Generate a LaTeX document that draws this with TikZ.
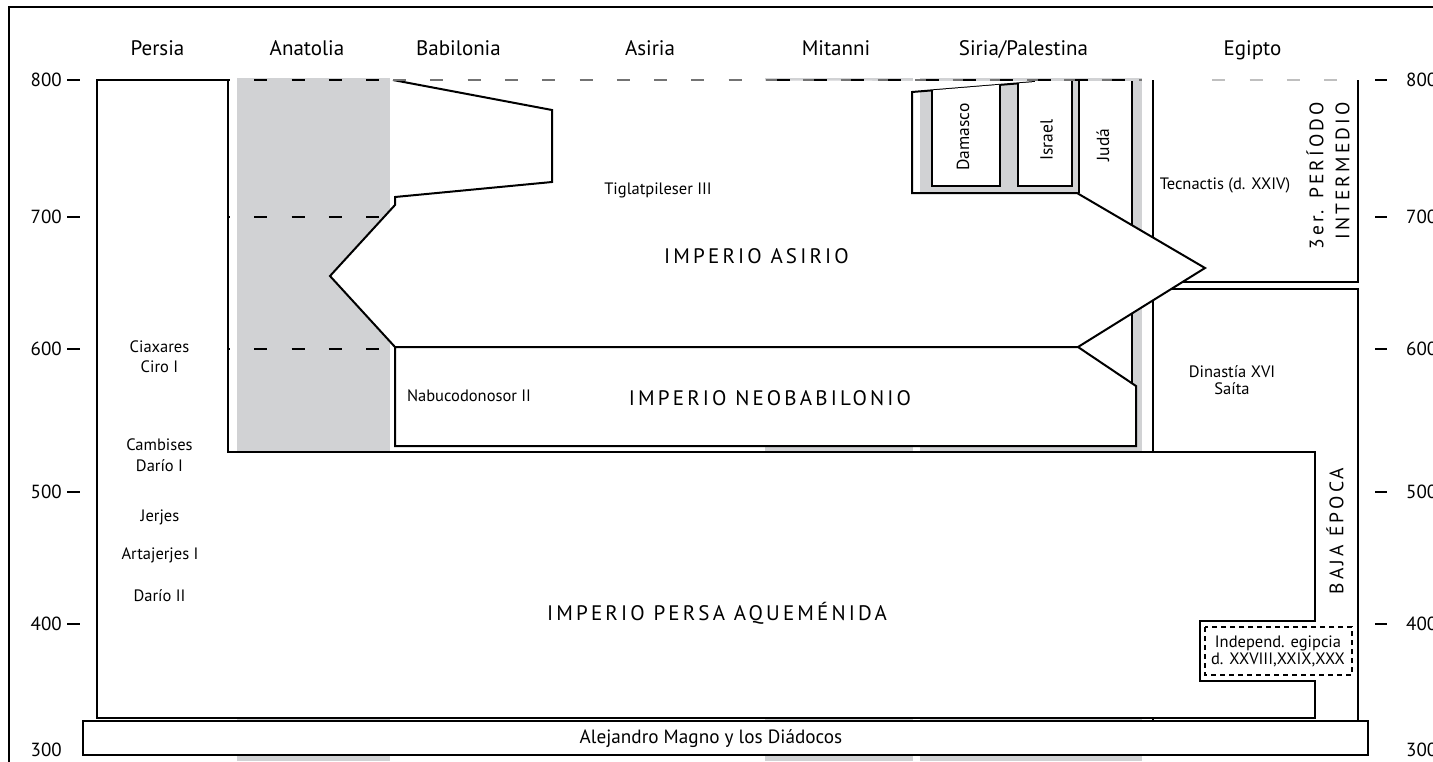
\documentclass[tikz,border=0pt]{standalone}
\usepackage{fontspec}
\setmainfont{PT Sans}
\usepackage{tikz}

\definecolor{bandgrey}{RGB}{209,210,212}

\begin{document}
\begin{tikzpicture}[
    x=1pt, y=-1pt,
    outl/.style={draw=black, line width=2pt},
    zone/.style={outl, fill=white},
    head/.style={anchor=base, font=\fontsize{21}{24}\selectfont},
    lab/.style={align=center, inner sep=0pt, font=\fontsize{16.5}{20.5}\selectfont},
    spaced/.style={align=right, inner sep=0pt, font=\fontsize{21}{26}\selectfont\addfontfeature{LetterSpace=15}},
    yr/.style={inner sep=0pt, font=\fontsize{19}{21}\selectfont},
    tick/.style={line width=2.5pt},
    bigdash/.style={line width=2.5pt, dash pattern=on 13pt off 24.3pt},
    thindash/.style={line width=1.3pt, dash pattern=on 13pt off 24.3pt}
]
    \useasboundingbox (0,0) rectangle (1433,761);
    \clip (0,0) rectangle (1433,761);

    % grey bands behind the empires
    \fill[bandgrey] (237,78) rectangle (390,761);
    \fill[bandgrey] (765,78) rectangle (913,761);
    \fill[bandgrey] (920,78) rectangle (1142,761);

    \draw[line width=2pt] (9,7) rectangle (1480,800);

    % column heads
    \node[head] (persia) at (157.5,55) {Persia};
    \node[head] (anatolia) at (307,55) {Anatolia};
    \node[head] (babilonia) at (458.5,55) {Babilonia};
    \node[head] (asiria) at (650,55) {Asiria};
    \node[head] (mitanni) at (836,55) {Mitanni};
    \node[head] (siria) at (1023.5,55) {Siria/Palestina};
    \node[head] (egipto) at (1252.5,55) {Egipto};

    % years
    \foreach \yr/\yy in {800/80, 700/217, 600/349, 500/492, 400/624} {
        \draw[tick] (67,\yy) -- (80,\yy);
        \draw[tick] (1375,\yy) -- (1387,\yy);
        \node[yr, anchor=east] (yl\yr) at (62,\yy) {\yr};
        \node[yr, anchor=west] (yr\yr) at (1406,\yy) {\yr};
    }
    \node[yr, anchor=east] (yl300) at (62,750) {300};
    \node[yr, anchor=west] (yr300) at (1406,750) {300};

    % Egypt
    \draw[outl] (1153,80) -- (1153,721);
    \draw[outl] (1153,282) -- (1358,282) -- (1358,80);
    \draw[outl] (1153,289) -- (1358,289) -- (1358,721);

    % Juda
    \fill[white] (1079,81) rectangle (1132,386);
    \draw[outl] (1079,81) -- (1079,193);
    \draw[outl] (1132,81) -- (1132,386);

    % Assyria
    \fill[white] (393,80) -- (552,110) -- (552,182) -- (395,197) -- (395,205) -- (330,276)
        -- (395,347) -- (1078,347) -- (1205,268) -- (1077,193) -- (912,193) -- (912,92)
        -- (1035,82) -- (1035,81) -- cycle;
    \draw[outl] (393,80) -- (552,110) -- (552,182) -- (395,197) -- (395,205) -- (330,276)
        -- (395,347) -- (1078,347) -- (1205,268) -- (1077,193) -- (912,193) -- (912,92)
        -- (1035,82);
    \draw[zone] (932,90.4) -- (932,186) -- (1000,186) -- (1000,84.8);
    \fill[white] (1018,83.4) -- (1018,186) -- (1072,186) -- (1072,81) -- (1035,81) -- (1035,82) -- cycle;
    \draw[outl] (1018,83.4) -- (1018,186) -- (1072,186) -- (1072,81);

    % Neo-Babylon
    \draw[zone] (395,347) -- (1078,347) -- (1136,386) -- (1136,446) -- (395,446) -- cycle;

    % Persia
    \draw[zone] (97,80) -- (228,80) -- (228,452) -- (1315,452) -- (1315,621) -- (1200,621)
        -- (1200,681) -- (1315,681) -- (1315,718) -- (97,718) -- cycle;
    \draw[line width=2pt, dash pattern=on 5pt off 4pt] (1205,627) rectangle (1352,675);

    \draw[zone] (83,721) rectangle (1368,755);

    % dashed century lines
    \draw[thindash, draw=black!55] (393,80) -- (1142,80);
    \draw[thindash, draw=black!25, dash phase=30] (1205,80) -- (1352,80);
    \begin{scope}
        \clip (765,70) rectangle (913,90) (920,70) rectangle (1142,90);
        \draw[bigdash] (217,80) -- (1142,80);
    \end{scope}
    \draw[bigdash, dash phase=11] (228,80) -- (390,80);
    \draw[bigdash, dash phase=11] (228,217) -- (385,217);
    \draw[bigdash, dash phase=11] (228,349) -- (392,349);

    % labels
    \node[lab] (ciaxares) at (159.5,356.5) {Ciaxares\\Ciro I};
    \node[lab] (cambises) at (159.5,455) {Cambises\\Darío I};
    \node[lab] (jerjes) at (160,517) {Jerjes};
    \node[lab] (artajerjes) at (160,555) {Artajerjes I};
    \node[lab] (dario) at (159.5,596) {Darío II};
    \node[lab] (tiglat) at (658,190) {Tiglatpileser III};
    \node[lab] (nabuco) at (469,396) {Nabucodonosor II};
    \node[lab] (tecnactis) at (1225,185) {Tecnactis (d. XXIV)};
    \node[lab, font=\fontsize{16.5}{17}\selectfont] (saita) at (1232,380.5) {Dinastía XVI\\Saíta};
    \node[lab, font=\fontsize{16.5}{17}\selectfont] (independ) at (1278,651) {Independ. egipcia\\d. XXVIII,XXIX,XXX};
    \node[lab, rotate=90, font=\fontsize{17.5}{20}\selectfont] (damasco) at (963,137) {Damasco};
    \node[lab, rotate=90, font=\fontsize{17.5}{20}\selectfont] (israel) at (1046.5,140) {Israel};
    \node[lab, rotate=90, font=\fontsize{17.5}{20}\selectfont] (juda) at (1103,145) {Judá};
    \node[lab, font=\fontsize{19.2}{20}\selectfont] (alejandro) at (711,739) {Alejandro Magno y los Diádocos};

    \node[spaced] (asirio) at (756.5,256) {IMPERIO ASIRIO};
    \node[spaced] (neobab) at (770,398) {IMPERIO NEOBABILONIO};
    \node[spaced] (aquemenida) at (717,613) {IMPERIO PERSA AQUEMÉNIDA};
    \node[spaced, rotate=90, anchor=east, font=\fontsize{19.5}{26}\selectfont\addfontfeature{LetterSpace=16}] (intermedio) at (1328,102) {3er. PERÍODO\\INTERMEDIO};
    \node[spaced, rotate=90, font=\fontsize{19.5}{26}\selectfont\addfontfeature{LetterSpace=16}] (baja) at (1335,531) {BAJA ÉPOCA};
\end{tikzpicture}
\end{document}
